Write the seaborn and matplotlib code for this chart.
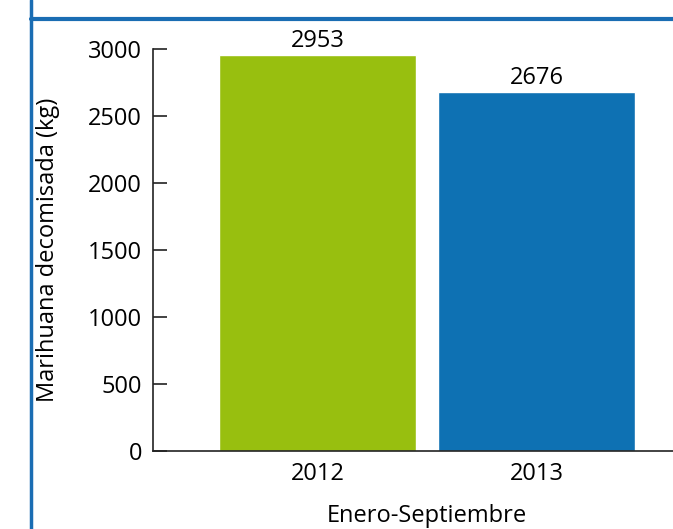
import matplotlib
matplotlib.use('Agg')
import matplotlib.pyplot as plt
import pandas as pd
import seaborn as sns
from matplotlib.lines import Line2D

# ── Data ──────────────────────────────────────────────────────────────────────
years  = ['2012', '2013']
values = [2953, 2676]
colors = ['#98bf0f', '#0e71b3']
y_ticks = [0, 500, 1000, 1500, 2000, 2500, 3000]

sns.set_style('white')
plt.rcParams['font.family'] = ['Open Sans', 'DejaVu Sans']
plt.rcParams.update({
    'font.size': 17,
    'text.color': 'black',
    'axes.labelcolor': 'black',
    'xtick.color': 'black',
    'ytick.color': 'black',
})

df = pd.DataFrame({'year': years, 'kg': values})

fig = plt.figure(figsize=(6.73, 5.29), dpi=100)
ax = fig.add_axes([153 / 673, 78 / 529, 547 / 673, 402 / 529])

sns.barplot(data=df, x='year', y='kg', hue='year', palette=colors,
            width=0.9, saturation=1, legend=False, ax=ax)

for bar, v in zip(ax.patches, values):
    ax.text(bar.get_x() + bar.get_width() / 2, bar.get_height() + 20, f'{v}',
            ha='center', va='bottom', fontsize=17, color='black', clip_on=False)

ax.set_xlim(-0.753, 1.745)
ax.set_ylim(0, 3000)
ax.set_yticks(y_ticks)
ax.tick_params(axis='y', left=True, direction='in', length=10, width=1.2,
               pad=8, labelsize=17, color='#222222')
ax.tick_params(axis='x', bottom=False, length=0, pad=8, labelsize=17)
ax.set_xlabel('Enero-Septiembre', fontsize=17, labelpad=13)
ax.set_ylabel('Marihuana decomisada (kg)', fontsize=17, labelpad=20)

sns.despine(ax=ax, top=True, right=True)
for s in ('left', 'bottom'):
    ax.spines[s].set_color('#222222')
    ax.spines[s].set_linewidth(1.2)

# frame of the panel
fig.add_artist(Line2D([31 / 673, 31 / 673], [0, 1], color='#1a6db3', lw=2.5,
                      transform=fig.transFigure))
fig.add_artist(Line2D([31 / 673, 1], [1 - 18.5 / 529, 1 - 18.5 / 529],
                      color='#1a6db3', lw=3, transform=fig.transFigure))

fig.savefig('out.png', dpi=100)
